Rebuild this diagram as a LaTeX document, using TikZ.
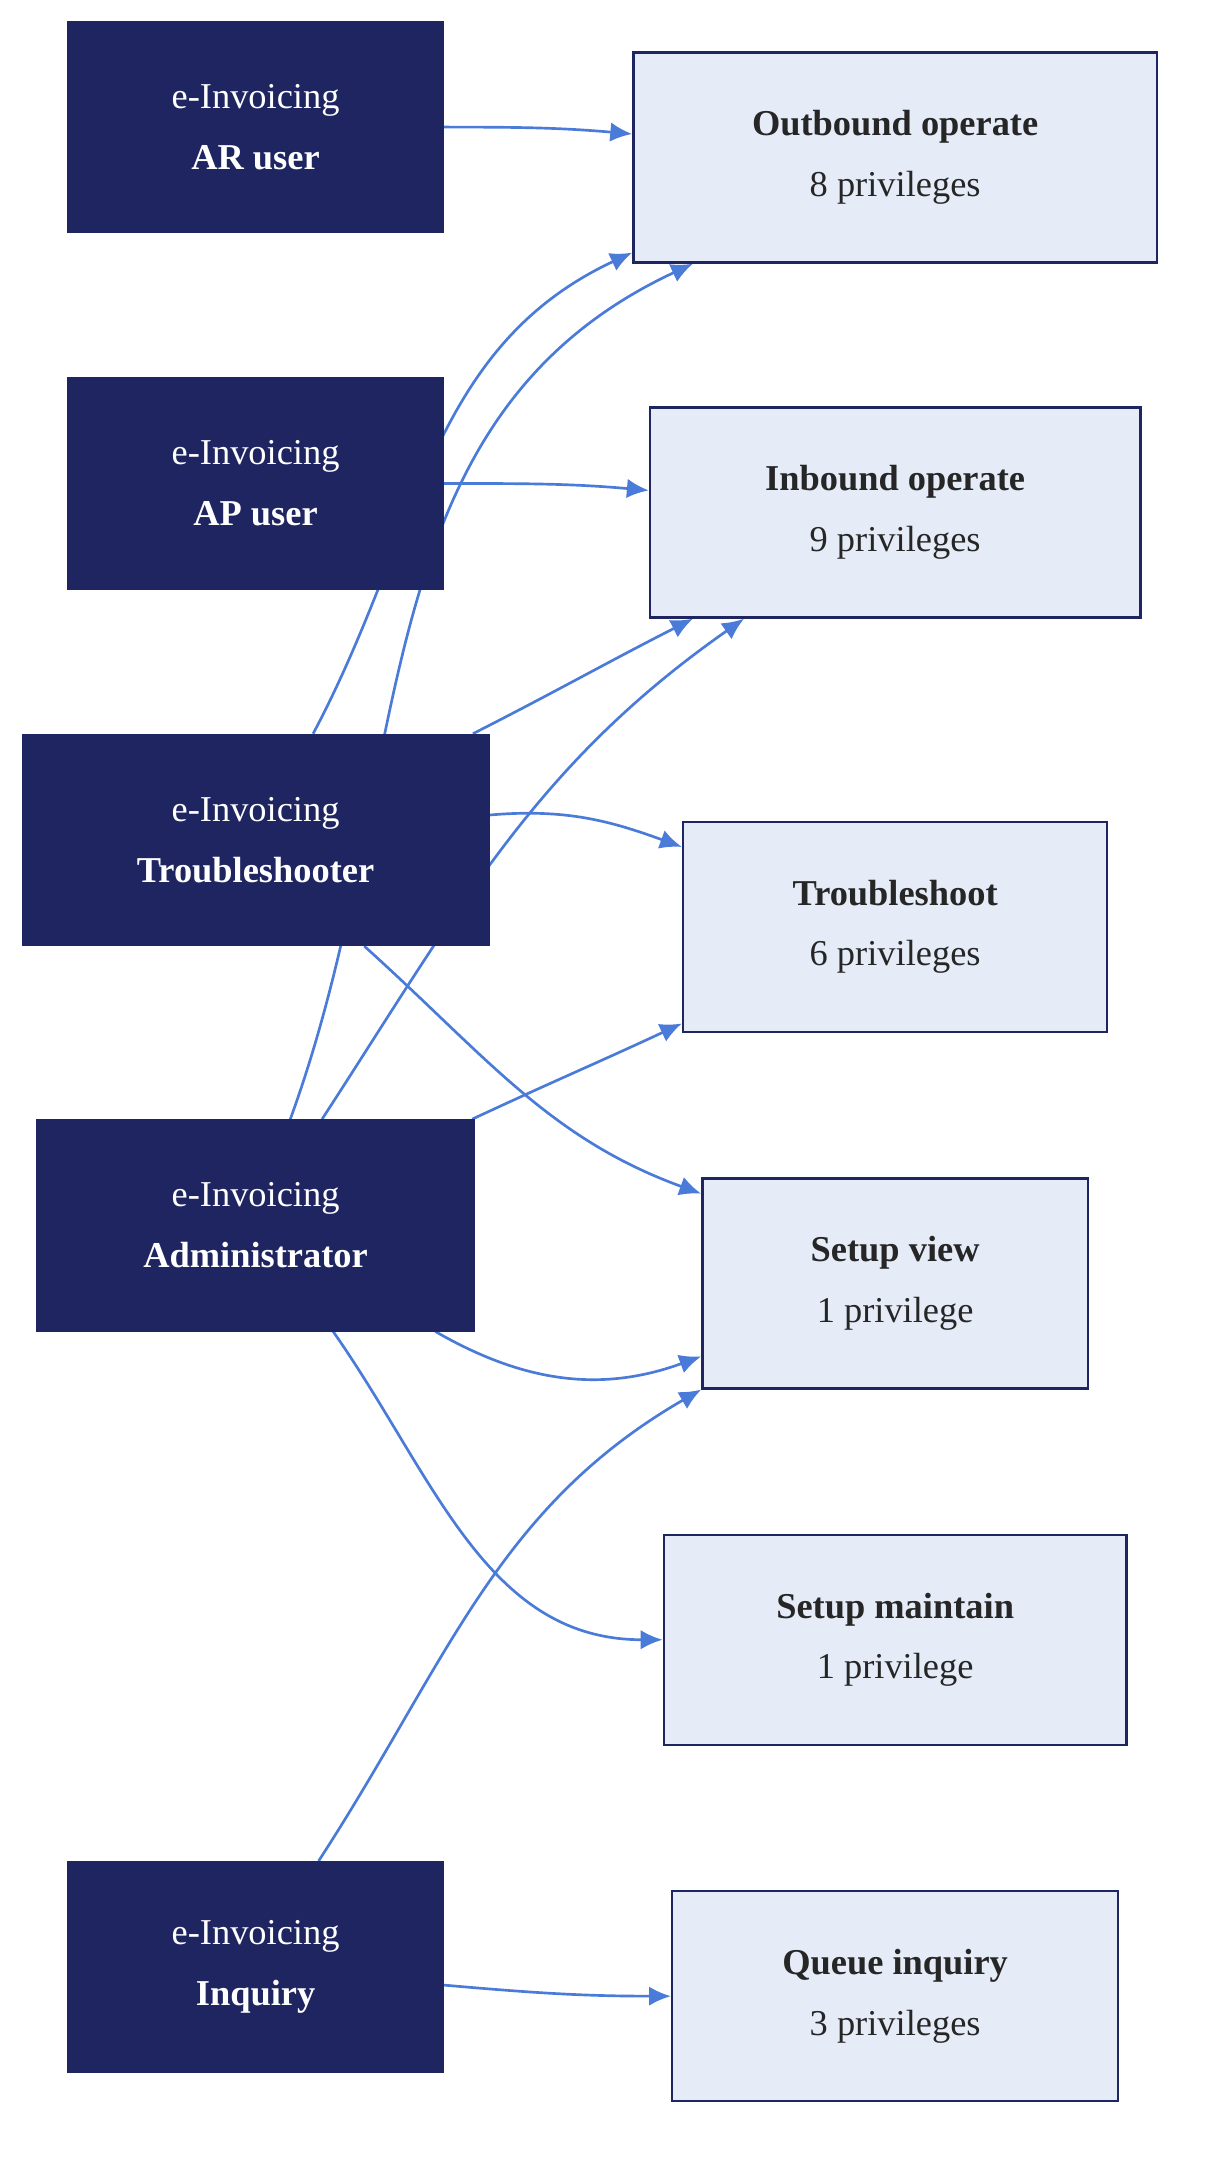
\documentclass[tikz,border=0pt]{standalone}
\usepackage{fontspec}
\setmainfont{Liberation Serif}
\usetikzlibrary{arrows.meta, positioning, calc, backgrounds}
\definecolor{navy}{HTML}{1F2560}
\definecolor{paleblue}{HTML}{E6ECF7}
\definecolor{linkblue}{HTML}{4A7BD8}
\begin{document}
\begin{tikzpicture}[x=0.02cm, y=-0.02cm,
    role/.style={draw=navy, fill=navy, text=white, align=center, minimum height=153*0.02cm, font=\fontsize{15}{25}\selectfont},
    duty/.style={draw=navy, line width=1pt, fill=paleblue, text=black!85, align=center, minimum height=152*0.02cm, font=\fontsize{15}{25}\selectfont},
    link/.style={draw=linkblue, line width=1.1pt, -{Latex[length=9pt,width=8pt]}}]
    \useasboundingbox (0,0) rectangle (880,1581);

    % Roles
    \node[role, minimum width=272*0.02cm] (ar) at (185,92) {e-Invoicing\\\textbf{AR user}};
    \node[role, minimum width=272*0.02cm] (ap) at (185,350) {e-Invoicing\\\textbf{AP user}};
    \node[role, minimum width=338*0.02cm] (ts) at (185,608) {e-Invoicing\\\textbf{Troubleshooter}};
    \node[role, minimum width=317*0.02cm] (adm) at (185,887) {e-Invoicing\\\textbf{Administrator}};
    \node[role, minimum width=272*0.02cm] (inq) at (185,1424) {e-Invoicing\\\textbf{Inquiry}};

    % Duties
    \node[duty, minimum width=379*0.02cm] (out) at (648,114) {\textbf{Outbound operate}\\8 privileges};
    \node[duty, minimum width=355*0.02cm] (in) at (648,371) {\textbf{Inbound operate}\\9 privileges};
    \node[duty, minimum width=307*0.02cm] (shoot) at (648,671) {\textbf{Troubleshoot}\\6 privileges};
    \node[duty, minimum width=279*0.02cm] (view) at (648,929) {\textbf{Setup view}\\1 privilege};
    \node[duty, minimum width=335*0.02cm] (maint) at (648,1187) {\textbf{Setup maintain}\\1 privilege};
    \node[duty, minimum width=323*0.02cm] (queue) at (648,1445) {\textbf{Queue inquiry}\\3 privileges};

    % Links
    \begin{scope}[on background layer]
    \draw[link] (ar.east) to[out=0,in=175] ($(out.west)+(0,-17)$);
    \draw[link] (ap.east) to[out=0,in=175] ($(in.west)+(0,-16)$);
    \draw[link] ($(ts.north west)+(211,0)$) to[out=62,in=205] ($(out.south west)+(0,-8)$);
    \draw[link] ($(adm.north west)+(184,0)$) to[out=70,in=205] ($(out.south west)+(44,0)$);
    \draw[link] ($(ts.north east)+(-12,0)$) to[out=27,in=207] ($(in.south west)+(32,0)$);
    \draw[link] ($(adm.north west)+(207,0)$) to[out=57,in=215] ($(in.south west)+(69,0)$);
    \draw[link] ($(ts.east)+(0,-18)$) to[out=5,in=160] ($(shoot.north west)+(0,19)$);
    \draw[link] ($(ts.south west)+(248,0)$) to[out=-42,in=160] ($(view.north west)+(0,12)$);
    \draw[link] ($(adm.north east)+(-2,0)$) to[out=25,in=205] ($(shoot.south west)+(0,-7)$);
    \draw[link] ($(adm.south west)+(289,0)$) to[out=-30,in=200] ($(view.south west)+(0,-24)$);
    \draw[link] ($(adm.south west)+(215,0)$) to[out=-55,in=180] (maint.west);
    \draw[link] ($(inq.north west)+(182,0)$) to[out=57,in=210] (view.south west);
    \draw[link] ($(inq.east)+(0,13)$) to[out=-5,in=180] (queue.west);
    \end{scope}
\end{tikzpicture}
\end{document}
